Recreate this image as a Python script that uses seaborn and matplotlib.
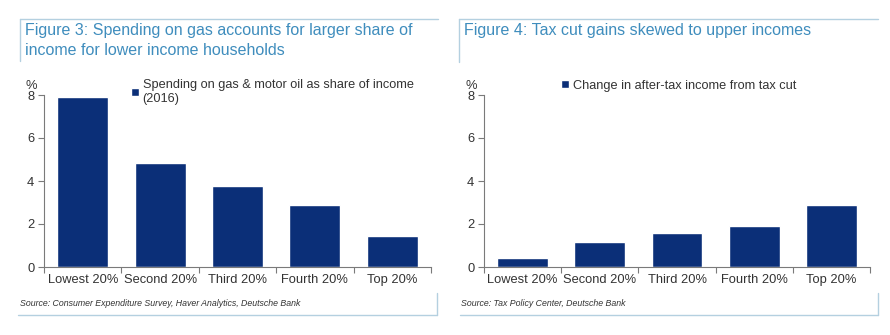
import matplotlib
matplotlib.use("Agg")
import matplotlib.pyplot as plt
from matplotlib.lines import Line2D
import seaborn as sns
import pandas as pd

categories = ["Lowest 20%", "Second 20%", "Third 20%", "Fourth 20%", "Top 20%"]
gas_share = [7.9, 4.85, 3.78, 2.88, 1.45]
tax_gain = [0.4, 1.18, 1.58, 1.9, 2.88]
yticks = [0, 2, 4, 6, 8]

title_left = "Figure 3: Spending on gas accounts for larger share of\nincome for lower income households"
title_right = "Figure 4: Tax cut gains skewed to upper incomes"
legend_left = "Spending on gas & motor oil as share of income\n(2016)"
legend_right = "Change in after-tax income from tax cut"
source_left = "Source: Consumer Expenditure Survey, Haver Analytics, Deutsche Bank"
source_right = "Source: Tax Policy Center, Deutsche Bank"

sns.set_theme(style="white")
plt.rcParams["font.family"] = ["Liberation Sans", "DejaVu Sans"]

NAVY = "#0b2f78"
TITLE_C = "#3f8dbd"
FRAME_C = "#b4d0e0"
AXIS_C = "#7a7a7a"
TEXT_C = "#333333"

W, H = 890, 335
fig = plt.figure(figsize=(W / 100, H / 100), dpi=100)


def fx(px):
    return px / W


def fy(py):
    return (H - py) / H


def panel(left_px, right_px, values, legend_label, legend_anchor):
    ax = fig.add_axes([fx(left_px), fy(267), fx(right_px - left_px), (267 - 95) / H])
    df = pd.DataFrame({"cat": categories, "val": values})
    sns.barplot(data=df, x="cat", y="val", color=NAVY, width=0.66, ax=ax,
                label=legend_label, saturation=1)
    ax.set_xlim(-0.5, 4.5)
    ax.set_ylim(0, 8)
    ax.set_yticks(yticks)
    ax.set_yticklabels([str(v) for v in yticks], fontsize=9.3, color=TEXT_C)
    ax.set_xticks(range(len(categories)))
    ax.set_xticklabels(categories, fontsize=9.3, color=TEXT_C)
    ax.tick_params(axis="x", which="major", bottom=True, length=0, pad=5)
    ax.set_xticks([i - 0.5 for i in range(len(categories) + 1)], minor=True)
    ax.tick_params(axis="x", which="minor", bottom=True, length=4, width=0.8,
                   color=AXIS_C, direction="out")
    ax.tick_params(axis="y", left=True, length=4, width=0.8, color=AXIS_C,
                   direction="out", pad=3)
    for s in ["top", "right"]:
        ax.spines[s].set_visible(False)
    for s in ["left", "bottom"]:
        ax.spines[s].set_color(AXIS_C)
        ax.spines[s].set_linewidth(0.8)
    ax.set_xlabel("")
    ax.set_ylabel("%", rotation=0, fontsize=9.3, color=TEXT_C)
    ax.yaxis.set_label_coords(-0.032, 1.02)
    ax.yaxis.label.set_verticalalignment("bottom")
    leg = ax.legend(loc="upper left", bbox_to_anchor=legend_anchor, frameon=False,
                    fontsize=9.2, handlelength=0.6, handleheight=0.6,
                    handletextpad=0.3, borderpad=0, borderaxespad=0)
    for t in leg.get_texts():
        t.set_color(TEXT_C)
        t.set_linespacing(1.3)
    return ax


panel(44, 431, gas_share, legend_left, (0.225, 1.095))
panel(484, 870, tax_gain, legend_right, (0.2, 1.09))

# decorative frames
def line(x0, y0, x1, y1):
    fig.add_artist(Line2D([fx(x0), fx(x1)], [fy(y0), fy(y1)], color=FRAME_C, lw=1.0))

line(20, 19, 438, 19)
line(20, 19, 20, 61)
line(18, 315, 437, 315)
line(437, 293, 437, 315)

line(459, 19, 878, 19)
line(459, 19, 459, 62)
line(460, 315, 878, 315)
line(878, 293, 878, 315)

fig.text(fx(25), fy(23), title_left, fontsize=11.5, color=TITLE_C, va="top", ha="left",
         linespacing=1.4)
fig.text(fx(464), fy(23), title_right, fontsize=11.5, color=TITLE_C, va="top", ha="left")

fig.text(fx(20), fy(303), source_left, fontsize=6.3, style="italic", color=TEXT_C, va="center")
fig.text(fx(461), fy(303), source_right, fontsize=6.3, style="italic", color=TEXT_C, va="center")

fig.savefig("out.png", dpi=100, facecolor="white")
